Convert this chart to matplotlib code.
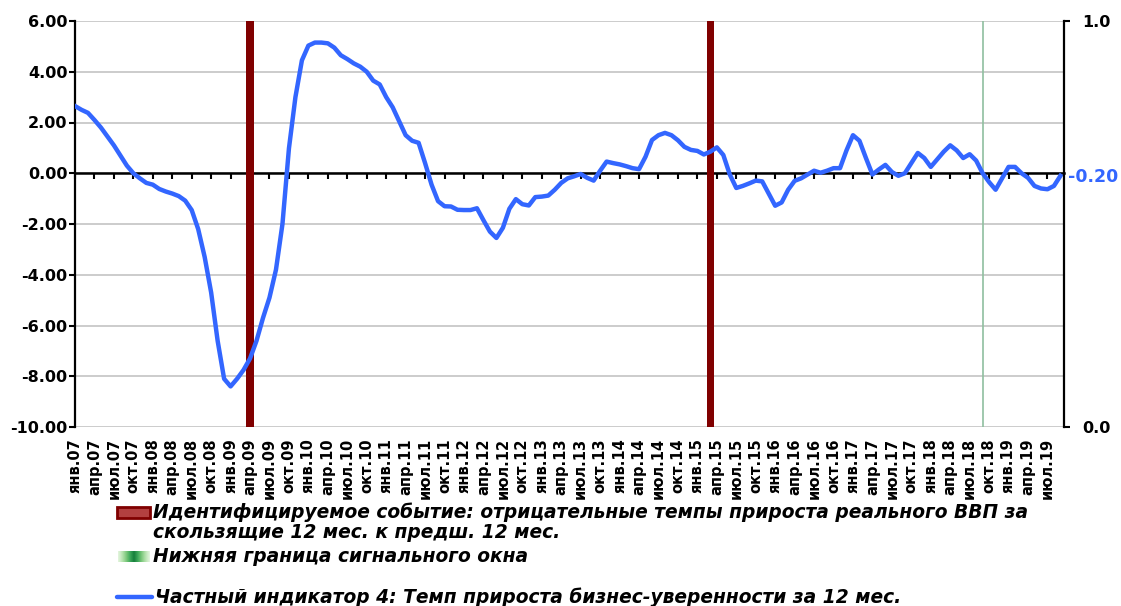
import numpy as np
import matplotlib
matplotlib.use("Agg")
import matplotlib.pyplot as plt
from matplotlib.patches import Rectangle
from matplotlib.lines import Line2D

plt.rcParams['font.family'] = ['DejaVu Sans']

# monthly values, янв.07 .. сен.19 (left axis)
indicator = [
    2.65, 2.50, 2.38, 2.10, 1.80, 1.45, 1.10, 0.70, 0.30, 0.00,
    -0.20, -0.38, -0.45, -0.62, -0.72, -0.80, -0.90, -1.08, -1.45, -2.20,
    -3.30, -4.70, -6.60, -8.10, -8.40, -8.10, -7.75, -7.30, -6.60, -5.70,
    -4.90, -3.80, -2.00, 0.98, 3.00, 4.45, 5.03, 5.15, 5.15, 5.12,
    4.95, 4.65, 4.50, 4.33, 4.20, 4.00, 3.65, 3.50, 3.00, 2.60,
    2.05, 1.50, 1.28, 1.20, 0.40, -0.45, -1.10, -1.30, -1.31, -1.44,
    -1.45, -1.45, -1.38, -1.85, -2.30, -2.55, -2.15, -1.40, -1.02, -1.22,
    -1.27, -0.94, -0.92, -0.88, -0.65, -0.38, -0.20, -0.12, -0.03, -0.18,
    -0.29, 0.10, 0.46, 0.40, 0.35, 0.28, 0.20, 0.16, 0.65, 1.31,
    1.50, 1.59, 1.50, 1.30, 1.04, 0.92, 0.88, 0.74, 0.85, 1.02,
    0.72, -0.05, -0.58, -0.50, -0.40, -0.29, -0.32, -0.80, -1.28, -1.15,
    -0.65, -0.30, -0.20, -0.05, 0.10, 0.02, 0.10, 0.20, 0.20, 0.90,
    1.50, 1.28, 0.60, -0.05, 0.15, 0.33, 0.05, -0.10, 0.00, 0.40,
    0.80, 0.60, 0.25, 0.55, 0.85, 1.10, 0.90, 0.60, 0.75, 0.50,
    0.00, -0.35, -0.65, -0.20, 0.25, 0.25, 0.00, -0.18, -0.50, -0.60,
    -0.63, -0.50, -0.10,
]
months = ['янв', 'апр', 'июл', 'окт']
years = list(range(7, 20))
tick_labels = [f"{m}.{y:02d}" for y in years for m in months][:51]
event_idx = [27, 98]        # negative GDP growth events
signal_idx = [140]          # lower bound of signal window

BLUE = '#3366ff'
DARKRED = '#800000'
GREEN = '#8fbf9f'

fig = plt.figure(figsize=(11.21, 6.06), dpi=100)
ax = fig.add_axes([75 / 1121, 1 - 427 / 606, 989 / 1121, 406 / 606])

x = np.arange(len(indicator))
ax.plot(x, indicator, color=BLUE, lw=3.2, solid_joinstyle='round', zorder=4)
for e in event_idx:
    ax.axvspan(e - 0.56, e + 0.56, color=DARKRED, lw=0, zorder=2)
for s in signal_idx:
    ax.axvline(s, color=GREEN, lw=1.2, zorder=2)

ax.set_xlim(0, 152.55)
ax.set_ylim(-10, 6)
ax.set_yticks(np.arange(-10, 7, 2))
ax.set_yticklabels([f"{v:.2f}" for v in np.arange(-10, 7, 2)])
ax.grid(axis='y', color='#c4c4c4', lw=1.2)
ax.set_axisbelow(True)
for sp in ['top', 'right', 'bottom']:
    ax.spines[sp].set_visible(False)
ax.spines['left'].set_linewidth(1.6)
ax.tick_params(axis='y', direction='out', length=4, width=1.5, labelsize=11.5, pad=1.5)
for lab in ax.get_yticklabels():
    lab.set_fontweight('bold')

xt = np.arange(0, len(indicator), 3)
ax.set_xticks(xt)
ax.set_xticklabels(tick_labels, rotation=90, fontsize=10.5, fontweight='bold', va='top')
ax.tick_params(axis='x', length=0, pad=8)

# zero axis with tick marks
sec = ax.secondary_xaxis(0.625)
sec.set_alignment('bottom')
sec.set_xticks(xt)
sec.tick_params(direction='out', length=4, width=1.5, labelbottom=False, labeltop=False)
sec.spines['bottom'].set_linewidth(1.8)
sec.set_zorder(1.5)

# right axis
ax2 = ax.twinx()
ax2.set_ylim(0, 1)
ax2.set_yticks([0, 1])
ax2.set_yticklabels(['0.0', '1.0'], fontweight='bold', fontsize=11.5)
ax2.tick_params(axis='y', direction='out', length=4, width=1.5, pad=9)
for sp in ['top', 'left', 'bottom']:
    ax2.spines[sp].set_visible(False)
ax2.spines['right'].set_linewidth(1.6)
ax2.text(1.004, 0.616, '-0.20', transform=ax2.transAxes, color=BLUE,
         fontsize=12.5, fontweight='bold', ha='left', va='center')

# legend
def fy(py):
    return 1 - py / 606

lt = dict(fontsize=13.4, fontweight='bold', style='italic', ha='left', va='center')
fig.patches.append(Rectangle((117 / 1121, fy(518)), 33 / 1121, 11 / 606,
                             transform=fig.transFigure, facecolor='#b34040',
                             edgecolor=DARKRED, lw=2))
fig.text(153 / 1121, fy(512), 'Идентифицируемое событие: отрицательные темпы прироста реального ВВП за', **lt)
fig.text(153 / 1121, fy(533), 'скользящие 12 мес. к предш. 12 мес.', **lt)

gax = fig.add_axes([118 / 1121, fy(562), 32 / 1121, 11 / 606])
grad = np.abs(np.linspace(-1, 1, 64))[None, :]
gax.imshow(grad, cmap='Greens_r', aspect='auto', vmin=-0.3, vmax=1.2)
gax.axis('off')
fig.text(153 / 1121, fy(557), 'Нижняя граница сигнального окна', **lt)

fig.lines.append(Line2D([117 / 1121, 152 / 1121], [fy(597), fy(597)],
                        transform=fig.transFigure, color=BLUE, lw=3.2,
                        solid_capstyle='round'))
fig.text(155 / 1121, fy(597), 'Частный индикатор 4: Темп прироста бизнес-уверенности за 12 мес.', **lt)

fig.savefig('out.png', dpi=100)
